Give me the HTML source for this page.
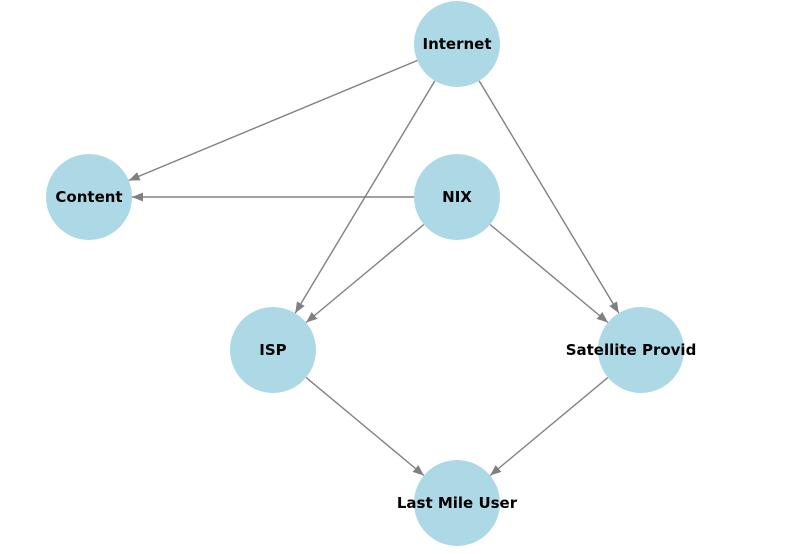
<!DOCTYPE html>
<html><head><meta charset="utf-8"><style>
html,body{margin:0;padding:0;background:#fff;}
svg{display:block;}
text{font-family:"DejaVu Sans","Liberation Sans",sans-serif;font-weight:bold;font-size:15px;fill:#000;}
</style></head><body>
<svg width="789" height="554" viewBox="0 0 789 554" xmlns="http://www.w3.org/2000/svg">
<defs>
<marker id="a" markerUnits="userSpaceOnUse" markerWidth="12" markerHeight="10" refX="11" refY="4.5" orient="auto">
<path d="M0,0 L11,4.5 L0,9 Z" fill="#808080"/>
</marker>
</defs>
<g stroke="#808080" stroke-width="1.4" marker-end="url(#a)">
<line x1="417.3" y1="60.5" x2="128.7" y2="180.5"/>
<line x1="434.8" y1="80.9" x2="295.2" y2="313.1"/>
<line x1="479.2" y1="80.9" x2="618.8" y2="313.1"/>
<line x1="414" y1="197" x2="132" y2="197"/>
<line x1="423.9" y1="224.5" x2="306.1" y2="322.5"/>
<line x1="490.1" y1="224.5" x2="607.9" y2="322.5"/>
<line x1="306.1" y1="377.5" x2="423.9" y2="475.5"/>
<line x1="607.9" y1="377.5" x2="490.1" y2="475.5"/>
</g>
<g fill="#add8e6">
<circle cx="457" cy="44" r="43"/>
<circle cx="89" cy="197" r="43"/>
<circle cx="457" cy="197" r="43"/>
<circle cx="273" cy="350" r="43"/>
<circle cx="641" cy="350" r="43"/>
<circle cx="457" cy="503" r="43"/>
</g>
<g text-anchor="middle">
<text x="457" y="49">Internet</text>
<text x="89" y="202">Content</text>
<text x="457" y="202">NIX</text>
<text x="273" y="355">ISP</text>
<text x="631" y="355">Satellite Provid</text>
<text x="457" y="508">Last Mile User</text>
</g>
</svg>
</body></html>
